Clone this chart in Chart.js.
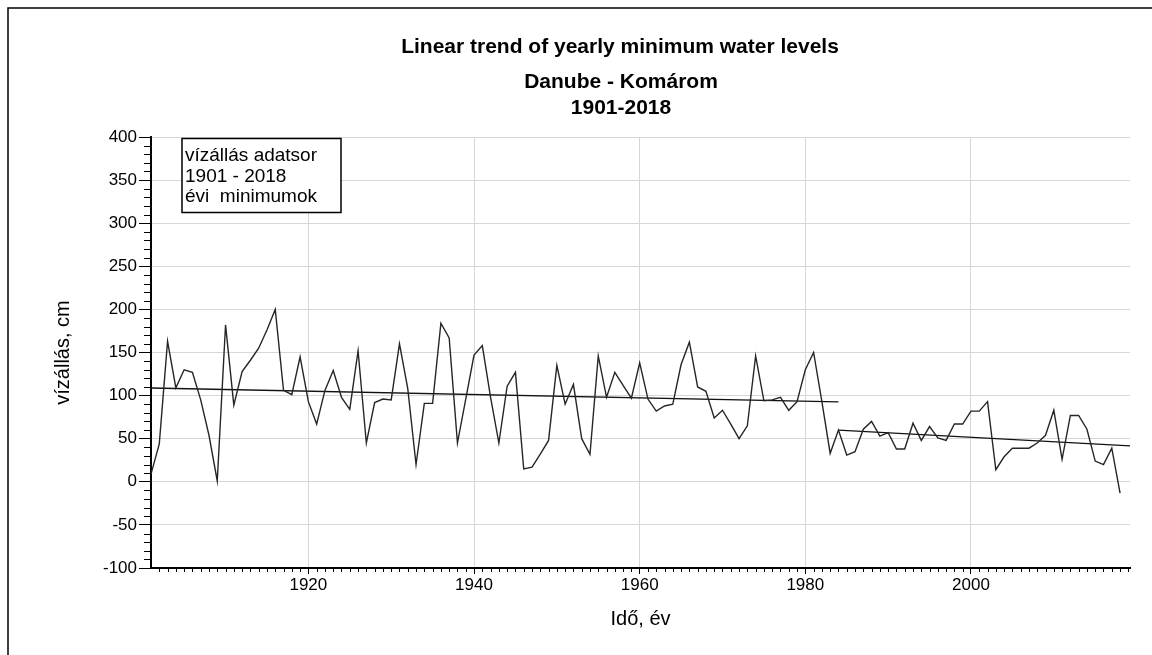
<!DOCTYPE html>
<html lang="hu">
<head>
    <meta charset="UTF-8">
    <title>Linear trend of yearly minimum water levels</title>
    <script src="https://cdn.jsdelivr.net/npm/chart.js"></script>
    <style>
        html, body { margin: 0; padding: 0; background: #fff; overflow: hidden; }
        #wrap { width: 1152px; height: 655px; }
    </style>
</head>
<body>
    <div id="wrap"><canvas id="grafikon" width="1152" height="655"></canvas></div>
<script>
    const titleText = 'Linear trend of yearly minimum water levels';
    const subtitleLines = ['Danube - Komárom', '1901-2018'];
    const legendLines = ['vízállás adatsor', '1901 - 2018', 'évi  minimumok'];
    const xTitle = 'Idő, év';
    const yTitle = 'vízállás, cm';

    // yearly minimum water levels (cm), first value is 1901
    const firstYear = 1901;
    const levels = [
        9, 44, 163, 109, 130, 127, 95, 54, 1,          // 1901-1909
        182, 89, 128, 141, 155, 176, 200, 106, 101, 145, // 1910-1919
        93, 67, 106, 129, 98, 84, 152, 45, 92, 96,       // 1920-1929
        95, 160, 108, 20, 91, 91, 184, 167, 45, 96,      // 1930-1939
        147, 158, 98, 45, 111, 127, 15, 17, 32, 48,      // 1940-1949
        135, 90, 113, 50, 32, 146, 98, 127, 112, 97,     // 1950-1959
        138, 96, 82, 88, 90, 136, 162, 110, 105, 74,     // 1960-1969
        83, 67, 50, 65, 146, 94, 95, 98, 83, 93,         // 1970-1979
        130, 150, 93, 33, 60, 31, 35, 61, 70, 53,        // 1980-1989
        57, 38, 38, 68, 48, 64, 51, 48, 67, 67,          // 1990-1999
        82, 82, 93, 14, 29, 39, 39, 39, 45, 54,          // 2000-2009
        83, 26, 77, 77, 61, 24, 20, 39, -13              // 2010-2018
    ];

    // linear trend segments [year, cm]
    const trendEarly = [[1901, 108.9], [1984, 92.7]];
    const trendLate = [[1984, 60], [2019.2, 41.7]];

    const xTicks = [1920, 1940, 1960, 1980, 2000];
    const yTicks = [-100, -50, 0, 50, 100, 150, 200, 250, 300, 350, 400];
    const xMin = 1901, xMax = 2019.2;
    const yMin = -100, yMax = 400;

    const fonte = '"Liberation Sans", Arial, sans-serif';

    const serie = levels.map((v, i) => ({ x: firstYear + i, y: v }));
    const toPts = seg => seg.map(p => ({ x: p[0], y: p[1] }));

    // minor ticks on both axes
    const minorTicks = {
        id: 'minorTicks',
        afterDraw(chart) {
            const { ctx, chartArea } = chart;
            const x = chart.scales.x, y = chart.scales.y;
            ctx.save();
            ctx.strokeStyle = '#000';
            ctx.lineWidth = 1;
            ctx.beginPath();
            for (let v = yMin + 10; v < yMax; v += 10) {
                if (v % 50 === 0) continue;
                const py = Math.round(y.getPixelForValue(v)) + 0.5;
                ctx.moveTo(chartArea.left - 7, py);
                ctx.lineTo(chartArea.left, py);
            }
            for (let ano = xMin + 1; ano <= Math.floor(xMax); ano++) {
                if (ano % 20 === 0) continue;
                const px = Math.round(x.getPixelForValue(ano)) + 0.5;
                ctx.moveTo(px, chartArea.bottom);
                ctx.lineTo(px, chartArea.bottom + 4);
            }
            ctx.stroke();
            ctx.restore();
        }
    };

    // frame, titles and the text box
    const decor = {
        id: 'decor',
        afterDraw(chart) {
            const ctx = chart.ctx;
            ctx.save();
            ctx.strokeStyle = '#000';
            ctx.lineWidth = 1.5;
            ctx.beginPath();
            ctx.moveTo(8, chart.height);
            ctx.lineTo(8, 8);
            ctx.lineTo(chart.width, 8);
            ctx.stroke();

            ctx.fillStyle = '#000';
            ctx.textAlign = 'center';
            ctx.textBaseline = 'alphabetic';
            ctx.font = 'bold 21px ' + fonte;
            ctx.fillText(titleText, 620, 52.5);
            subtitleLines.forEach((t, i) => ctx.fillText(t, 621, 87.5 + i * 26));

            ctx.fillStyle = '#fff';
            ctx.fillRect(182, 138.5, 159, 74);
            ctx.strokeRect(182, 138.5, 159, 74);
            ctx.fillStyle = '#000';
            ctx.textAlign = 'left';
            ctx.font = '19px ' + fonte;
            legendLines.forEach((t, i) => ctx.fillText(t, 185, 161 + i * 20.5));
            ctx.restore();
        }
    };

    const ctx = document.getElementById('grafikon').getContext('2d');
    const grafico = new Chart(ctx, {
        type: 'line',
        data: {
            datasets: [
                { label: 'vízállás', data: serie, borderColor: '#262626', borderWidth: 1.4 },
                { label: 'trend 1901-1984', data: toPts(trendEarly), borderColor: '#111', borderWidth: 1.4 },
                { label: 'trend 1984-2018', data: toPts(trendLate), borderColor: '#111', borderWidth: 1.4 }
            ]
        },
        options: {
            responsive: false,
            animation: false,
            devicePixelRatio: 1,
            elements: { point: { radius: 0 }, line: { tension: 0 } },
            layout: { padding: { left: 0, right: 22, top: 137, bottom: 0 } },
            plugins: {
                legend: { display: false },
                tooltip: { enabled: false },
                title: { display: false }
            },
            scales: {
                x: {
                    type: 'linear',
                    min: xMin,
                    max: xMax,
                    afterBuildTicks: s => { s.ticks = xTicks.map(v => ({ value: v })); },
                    afterFit: s => { s.height = 87; },
                    grid: { color: '#d6d6d6', lineWidth: 1, tickLength: 6, tickColor: '#000', tickWidth: 1 },
                    border: { color: '#000', width: 2 },
                    ticks: {
                        color: '#000', padding: 1, maxRotation: 0, autoSkip: false,
                        font: { family: fonte, size: 17 },
                        callback: v => String(v)
                    },
                    title: {
                        display: true, text: xTitle, color: '#000',
                        font: { family: fonte, size: 20 },
                        padding: { top: 0, bottom: 24 }
                    }
                },
                y: {
                    type: 'linear',
                    min: yMin,
                    max: yMax,
                    afterBuildTicks: s => { s.ticks = yTicks.map(v => ({ value: v })); },
                    afterFit: s => { s.width = 151; },
                    grid: { color: '#d6d6d6', lineWidth: 1, tickLength: 12, tickColor: '#000', tickWidth: 1 },
                    border: { color: '#000', width: 2 },
                    ticks: {
                        color: '#000', padding: 2,
                        font: { family: fonte, size: 17 },
                        callback: v => String(v)
                    },
                    title: {
                        display: true, text: yTitle, color: '#000',
                        font: { family: fonte, size: 20 },
                        padding: { top: 51, bottom: 0 }
                    }
                }
            }
        },
        plugins: [minorTicks, decor]
    });
</script>
</body>
</html>
